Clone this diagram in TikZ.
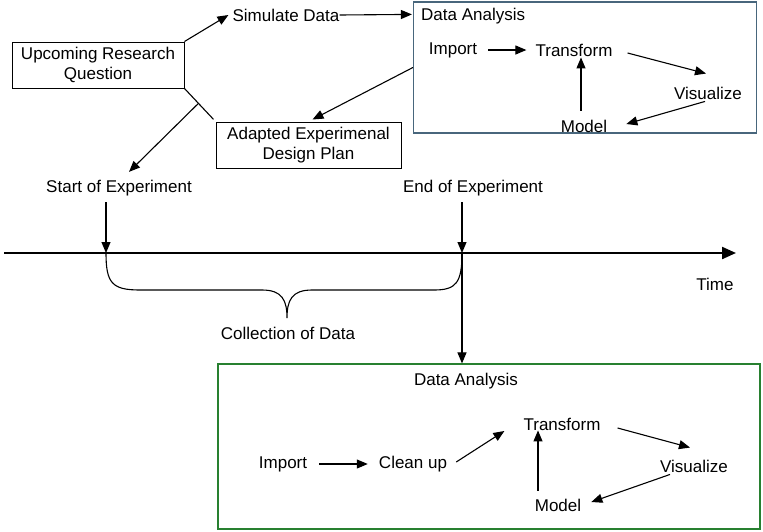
\documentclass[tikz,border=0pt]{standalone}
\usepackage{fontspec}
\setmainfont{Liberation Sans}
\usetikzlibrary{arrows.meta,calc}
\definecolor{slate}{RGB}{72,102,124}
\definecolor{leaf}{RGB}{40,128,48}
\begin{document}
\begin{tikzpicture}[x=1pt,y=-1pt,
  lbl/.style={font=\fontsize{17}{20.5}\selectfont, inner sep=4pt},
  box/.style={draw, line width=1pt, lbl, align=center, inner sep=0pt},
  arr/.style={line width=1.1pt, -{Triangle[length=11pt,width=9pt]}},
  ln/.style={line width=1.1pt},
  axisline/.style={line width=2.2pt, -{Triangle[length=14pt,width=12pt]}}]
\useasboundingbox (0,0) rectangle (763,531);

% ---- planning stage ----
\node[box, minimum width=172pt, minimum height=46pt] (upq) at (98,65)
  {Upcoming Research\\Question};
\node[lbl] (sim) at (286,15) {Simulate Data};
\node[box, minimum width=185pt, minimum height=46pt] (adp) at (308.5,145)
  {Adapted Experimenal\\Design Plan};

% first analysis round
\node[draw=slate, line width=1.2pt, minimum width=343pt, minimum height=131pt,
      inner sep=0pt] (da1) at (585,67.5) {};
\node[lbl, anchor=west] (da1t) at (417,16) {Data Analysis};
\node[lbl] (imp1) at (453,50) {Import};
\node[lbl] (tr1) at (574,50) {Transform};
\node[lbl] (vis1) at (708,93) {Visualize};
\node[lbl] (mod1) at (584,126) {Model};

\draw[arr] (upq.north east) -- (sim.west);
\draw[arr] ($(sim.east)+(-4,0)$) -- ($(da1.north west)+(-1,13)$);
\draw[arr] (da1.west) -- ($(adp.north)+(4,-2)$);
\draw[ln, shorten >=3pt] (upq.south east) -- (adp.north west)
  coordinate[pos=0.45] (split);

\draw[arr] ($(imp1.east)+(7,0)$) -- ($(tr1.west)+(-5,0)$);
\draw[arr] ($(tr1.east)+(11,3)$) -- ($(vis1.north)+(-2,-9)$);
\draw[arr] ($(vis1.south)+(-3,-2)$) -- ($(mod1.east)+(15,-2)$);
\draw[arr] ($(mod1.north)+(-3,-5)$) -- ($(tr1.south)+(7,-3)$);

% ---- time line ----
\coordinate (ax0) at (4,253);
\coordinate (ax1) at (736,253);
\coordinate (t0) at (106,253);
\coordinate (t1) at (462,253);
\draw[axisline] (ax0) -- (ax1);
\node[lbl] (time) at (715,284) {Time};

\node[lbl] (start) at (119,188) {Start of Experiment};
\node[lbl] (end) at (473,188) {End of Experiment};
\draw[arr] (split) -- ($(start.north)+(10,-4)$);
\draw[arr] ($(start.south -| t0)+(0,2)$) -- (t0);
\draw[arr] ($(end.south -| t1)+(0,2)$) -- (t1);

% brace over the collection period
\coordinate (btip) at (287,318);
\draw[ln] (t0) .. controls (106,283) and (112,290) .. (140,290)
  -- (262,290) .. controls (282,290) and (287,300) .. (btip)
  .. controls (287,300) and (292,290) .. (312,290)
  -- (434,290) .. controls (456,290) and (462,283) .. (t1);
\node[lbl] (coll) at (288,333) {Collection of Data};

% second analysis round
\node[draw=leaf, line width=1.2pt, minimum width=542pt, minimum height=165pt,
      inner sep=0pt] (da2) at (489,446.5) {};
\node[lbl] (da2t) at (466,381) {Data Analysis};
\draw[arr] (t1) -- (t1 |- da2.north);

\node[lbl] (imp2) at (283,464) {Import};
\node[lbl] (cln) at (413,464) {Clean up};
\node[lbl] (tr2) at (562,424) {Transform};
\node[lbl] (vis2) at (694,466) {Visualize};
\node[lbl] (mod2) at (558,505) {Model};

\draw[arr] ($(imp2.east)+(8,0)$) -- ($(cln.west)+(-7,0)$);
\draw[arr] ($(cln.east)+(5,-2)$) -- ($(tr2.west)+(-15,7)$);
\draw[arr] ($(tr2.east)+(13,4)$) -- ($(vis2.north)+(-4,-8)$);
\draw[arr] ($(vis2.south)+(-24,-2)$) -- ($(mod2.east)+(6,-3)$);
\draw[arr] ($(mod2.north)+(-20,-4)$) -- ($(tr2.south)+(-24,-4)$);
\end{tikzpicture}
\end{document}
